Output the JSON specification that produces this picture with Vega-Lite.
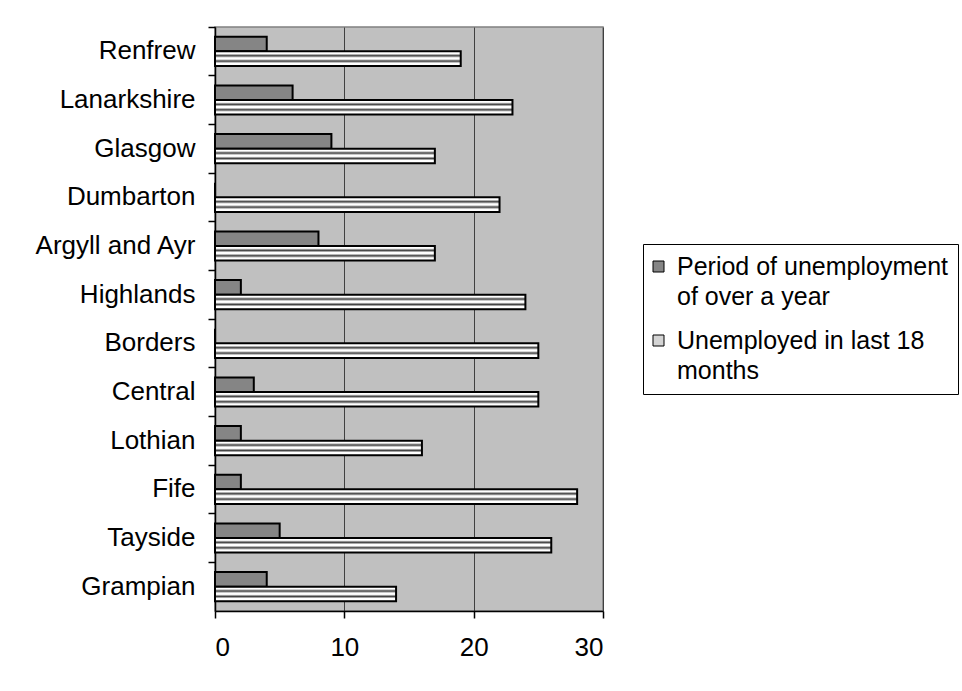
{
  "$schema": "https://vega.github.io/schema/vega-lite/v6.json",
  "width": 388,
  "height": 584,
  "autosize": {"type": "none"},
  "padding": {"left": 215, "top": 27, "right": 359, "bottom": 80},
  "background": "white",
  "config": {
    "font": "Liberation Sans",
    "view": {"fill": "#c0c0c0", "stroke": "#808080", "strokeWidth": 1.5},
    "axis": {
      "labelFont": "Liberation Sans",
      "labelFontSize": 26,
      "labelColor": "#000",
      "domainColor": "#000",
      "domainWidth": 1.5,
      "tickColor": "#000",
      "tickWidth": 1.5,
      "tickSize": 7
    },
    "style": {"guide-label": {"lineHeight": 30}}
  },
  "data": {
    "values": [
      {"region": "Renfrew", "series": "Period of unemployment of over a year", "value": 4},
      {"region": "Renfrew", "series": "Unemployed in last 18 months", "value": 19},
      {"region": "Lanarkshire", "series": "Period of unemployment of over a year", "value": 6},
      {"region": "Lanarkshire", "series": "Unemployed in last 18 months", "value": 23},
      {"region": "Glasgow", "series": "Period of unemployment of over a year", "value": 9},
      {"region": "Glasgow", "series": "Unemployed in last 18 months", "value": 17},
      {"region": "Dumbarton", "series": "Period of unemployment of over a year", "value": 0},
      {"region": "Dumbarton", "series": "Unemployed in last 18 months", "value": 22},
      {"region": "Argyll and Ayr", "series": "Period of unemployment of over a year", "value": 8},
      {"region": "Argyll and Ayr", "series": "Unemployed in last 18 months", "value": 17},
      {"region": "Highlands", "series": "Period of unemployment of over a year", "value": 2},
      {"region": "Highlands", "series": "Unemployed in last 18 months", "value": 24},
      {"region": "Borders", "series": "Period of unemployment of over a year", "value": 0},
      {"region": "Borders", "series": "Unemployed in last 18 months", "value": 25},
      {"region": "Central", "series": "Period of unemployment of over a year", "value": 3},
      {"region": "Central", "series": "Unemployed in last 18 months", "value": 25},
      {"region": "Lothian", "series": "Period of unemployment of over a year", "value": 2},
      {"region": "Lothian", "series": "Unemployed in last 18 months", "value": 16},
      {"region": "Fife", "series": "Period of unemployment of over a year", "value": 2},
      {"region": "Fife", "series": "Unemployed in last 18 months", "value": 28},
      {"region": "Tayside", "series": "Period of unemployment of over a year", "value": 5},
      {"region": "Tayside", "series": "Unemployed in last 18 months", "value": 26},
      {"region": "Grampian", "series": "Period of unemployment of over a year", "value": 4},
      {"region": "Grampian", "series": "Unemployed in last 18 months", "value": 14}
    ]
  },
  "mark": {"type": "bar", "stroke": "#000", "strokeWidth": 2},
  "encoding": {
    "y": {
      "field": "region",
      "type": "nominal",
      "sort": null,
      "title": null,
      "scale": {"paddingInner": 0, "paddingOuter": 0},
      "axis": {"bandPosition": 0, "labelPadding": 13, "grid": false, "domain": true}
    },
    "yOffset": {
      "field": "series",
      "type": "nominal",
      "scale": {"paddingInner": 0, "paddingOuter": 0.667}
    },
    "x": {
      "field": "value",
      "type": "quantitative",
      "title": null,
      "scale": {"domain": [0, 30], "nice": false},
      "axis": {"values": [0, 10, 20, 30], "grid": true, "gridColor": "#404040", "gridWidth": 1, "labelPadding": 16}
    },
    "fill": {
      "field": "series",
      "type": "nominal",
      "condition": {
        "test": "datum.series == 'Unemployed in last 18 months'",
        "value": {
          "gradient": "linear",
          "x1": 0, "y1": 0, "x2": 0, "y2": 1,
          "stops": [
            {"offset": 0, "color": "#ffffff"},
            {"offset": 0.16, "color": "#ffffff"},
            {"offset": 0.3, "color": "#404040"},
            {"offset": 0.44, "color": "#ffffff"},
            {"offset": 0.53, "color": "#ffffff"},
            {"offset": 0.67, "color": "#404040"},
            {"offset": 0.81, "color": "#ffffff"},
            {"offset": 1, "color": "#ffffff"}
          ]
        }
      },
      "scale": {"range": ["#858585", "#d4d4d4"]},
      "legend": {
        "orient": "none",
        "legendX": 428,
        "legendY": 217,
        "title": null,
        "strokeColor": "#000",
        "fillColor": "#fff",
        "padding": 10,
        "symbolType": "square",
        "symbolSize": 121,
        "symbolOffset": -7,
        "symbolStrokeColor": "#000",
        "symbolStrokeWidth": 1,
        "labelFont": "Liberation Sans",
        "labelFontSize": 25,
        "labelColor": "#000",
        "labelLimit": 400,
        "labelOffset": 6,
        "rowPadding": 18,
        "labelExpr": "datum.label == 'Period of unemployment of over a year' ? ['Period of unemployment', 'of over a year'] : ['Unemployed in last 18', 'months']"
      }
    }
  }
}
